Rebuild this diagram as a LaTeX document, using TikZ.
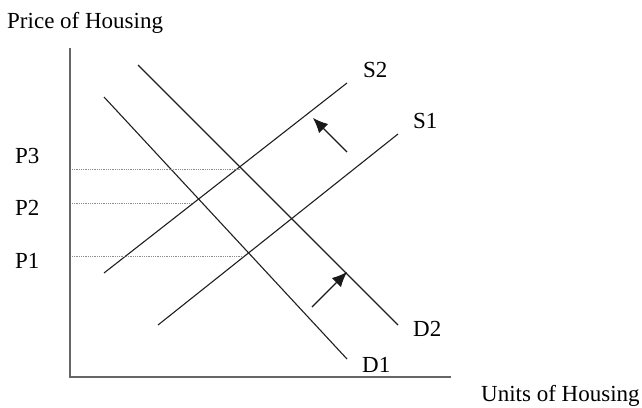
\documentclass[tikz,border=0pt]{standalone}
\usepackage{fontspec}
\setmainfont{Liberation Serif}
\usetikzlibrary{arrows.meta}
\begin{document}
\begin{tikzpicture}[x=1pt,y=-1pt,
  curve/.style={line width=1.1pt,draw=black!88},
  axisline/.style={line width=1.8pt,draw=black!60},
  guide/.style={line width=0.7pt,draw=black!45,dash pattern=on 0.8pt off 1pt},
  shift arrow/.style={line width=1.1pt,draw=black!90,-{Latex[length=15pt,width=13pt]}},
  lbl/.style={anchor=base west,inner sep=0pt,font=\fontsize{23}{27}\selectfont}]
\useasboundingbox (0,0) rectangle (642,407);
% axes
\coordinate (ytop) at (70,48);
\coordinate (origin) at (70,377);
\coordinate (xend) at (451,377);
\draw[axisline] (ytop) -- (origin) -- (xend);
% curves
\coordinate (d1a) at (104,97);  \coordinate (d1b) at (347,359);
\coordinate (d2a) at (138,65);  \coordinate (d2b) at (398,325);
\coordinate (s2a) at (104,273); \coordinate (s2b) at (347,83);
\coordinate (s1a) at (158,325); \coordinate (s1b) at (398,134);
\draw[curve] (d1a) -- (d1b);
\draw[curve] (d2a) -- (d2b);
\draw[curve] (s2a) -- (s2b);
\draw[curve] (s1a) -- (s1b);
% guide lines
\coordinate (p3a) at (72,169); \coordinate (p3b) at (240,169);
\coordinate (p2a) at (72,203); \coordinate (p2b) at (192,203);
\coordinate (p1a) at (72,256); \coordinate (p1b) at (243,256);
\draw[guide] (p3a) -- (p3b);
\draw[guide] (p2a) -- (p2b);
\draw[guide] (p1a) -- (p1b);
% shift arrows
\coordinate (ua) at (347,152); \coordinate (ub) at (313,118);
\coordinate (ra) at (312,307); \coordinate (rb) at (347,272);
\draw[shift arrow] (ua) -- (ub);
\draw[shift arrow] (ra) -- (rb);
% labels
\node[lbl] (ylabel) at (7,28) {Price of Housing};
\node[lbl] (xlabel) at (481,401) {Units of Housing};
\node[lbl] (P3) at (15,163) {P3};
\node[lbl] (P2) at (15,215) {P2};
\node[lbl] (P1) at (15,268) {P1};
\node[lbl] (S2) at (363,77) {S2};
\node[lbl] (S1) at (413,128) {S1};
\node[lbl] (D2) at (413,336) {D2};
\node[lbl] (D1) at (362,372) {D1};
\end{tikzpicture}
\end{document}
